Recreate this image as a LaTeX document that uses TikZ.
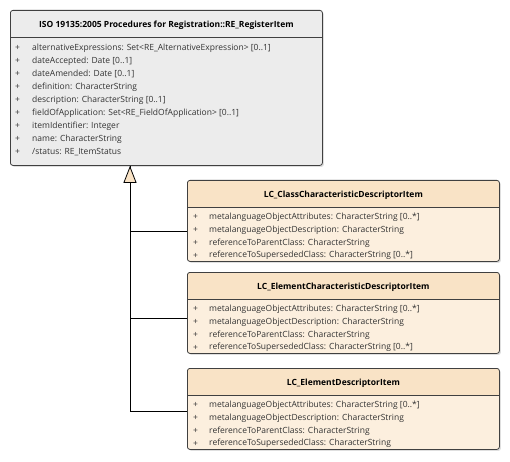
\documentclass[tikz,border=0pt]{standalone}
\usepackage{fontspec}
\setmainfont{Open Sans}
\usetikzlibrary{arrows.meta,calc,shadows}
\definecolor{gbody}{HTML}{ECECEC}
\definecolor{ohead}{HTML}{F9E3C6}
\definecolor{obody}{HTML}{FCEFDE}
\definecolor{edgec}{HTML}{404040}
\definecolor{txt}{HTML}{333333}
\begin{document}
\begin{tikzpicture}[x=1bp,y=-1bp,
  classbox/.style={draw=edgec, line width=0.8bp, rounded corners=2.5bp, inner sep=0pt,
    anchor=north west, drop shadow={shadow xshift=1.5bp, shadow yshift=-1.5bp, opacity=0.25}},
  graybox/.style={classbox, fill=gbody, minimum width=312bp, minimum height=155bp},
  orangebox/.style={classbox, fill=obody, minimum width=312bp, minimum height=81bp,
    path picture={\fill[ohead] (path picture bounding box.north west) rectangle
      ($(path picture bounding box.north east)+(0,-27bp)$);}},
  ctitle/.style={font=\fontsize{8.5bp}{10bp}\selectfont\bfseries, text=black, inner sep=0pt},
  attr/.style={font=\fontsize{8.5bp}{9bp}\selectfont, text=txt, inner sep=0pt, anchor=west},
  sepline/.style={draw=edgec, line width=0.8bp},
  conn/.style={draw=black, line width=0.8bp}
]
\useasboundingbox (0,0) rectangle (510,462);

% main class
\node[graybox] (main) at (10,10) {};
\draw[sepline] ($(main.north west)+(0,27)$) -- ($(main.north east)+(0,27)$);
\node[ctitle] (t0) at ($(main.north)+(0,15)$) {ISO 19135:2005 Procedures for Registration::RE\_RegisterItem};
\foreach \t [count=\i] in {
  {alternativeExpressions: Set<RE\_AlternativeExpression> [0..1]},
  {dateAccepted: Date [0..1]},
  {dateAmended: Date [0..1]},
  {definition: CharacterString},
  {description: CharacterString [0..1]},
  {fieldOfApplication: Set<RE\_FieldOfApplication> [0..1]},
  {itemIdentifier: Integer},
  {name: CharacterString},
  {/status: RE\_ItemStatus}} {
  \node[attr] (mp\i) at ($(main.north west)+(5,25.3+13*\i)$) {+};
  \node[attr] (ma\i) at ($(main.north west)+(22,25.3+13*\i)$) {\t};
}

% sub classes
\node[orangebox] (c1) at (187,180) {};
\node[orangebox] (c2) at (187,272) {};
\node[orangebox] (c3) at (187,368) {};
\foreach \b/\name/\last in {
  c1/LC\_ClassCharacteristicDescriptorItem/{referenceToSupersededClass: CharacterString [0..*]},
  c2/LC\_ElementCharacteristicDescriptorItem/{referenceToSupersededClass: CharacterString [0..*]},
  c3/LC\_ElementDescriptorItem/{referenceToSupersededClass: CharacterString}} {
  \draw[sepline] ($(\b.north west)+(0,27)$) -- ($(\b.north east)+(0,27)$);
  \node[ctitle] (\b t) at ($(\b.north)+(0,15)$) {\name};
  \foreach \t [count=\i] in {
    {metalanguageObjectAttributes: CharacterString [0..*]},
    {metalanguageObjectDescription: CharacterString},
    {referenceToParentClass: CharacterString},
    {\last}} {
    \node[attr] (\b p\i) at ($(\b.north west)+(6,24.5+12.8*\i)$) {+};
    \node[attr] (\b a\i) at ($(\b.north west)+(22,24.5+12.8*\i)$) {\t};
  }
}

% generalization
\coordinate (tip) at ($(main.south west)+(120,0)$);
\coordinate (j1) at ($(c1.north west)+(0,51)$);
\coordinate (j2) at ($(c2.north west)+(0,46)$);
\coordinate (j3) at ($(c3.north west)+(0,43)$);
\draw[conn] (j2) -| (tip);
\draw[conn] (j3) -| (tip);
\draw[conn, -{Triangle[length=17bp,width=13bp,open,fill=ohead]}] (j1) -| (tip);
\end{tikzpicture}
\end{document}
